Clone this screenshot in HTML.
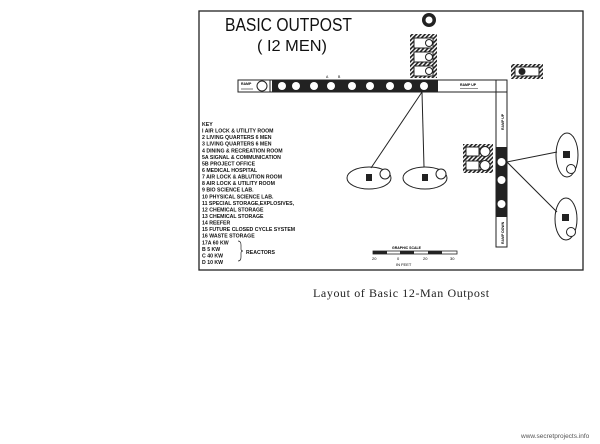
<!DOCTYPE html>
<html><head><meta charset="utf-8"><style>
html,body{margin:0;padding:0;background:#fff;}
svg{display:block}
</style></head><body>
<svg width="600" height="444" viewBox="0 0 600 444" xmlns="http://www.w3.org/2000/svg" font-family="Liberation Sans, sans-serif">
<defs>
<pattern id="h" width="3" height="3" patternUnits="userSpaceOnUse" patternTransform="rotate(45)">
<rect width="3" height="3" fill="#fff"/><rect width="1.6" height="3" fill="#222"/></pattern>
</defs>
<rect x="199" y="11" width="384" height="259" fill="none" stroke="#222" stroke-width="1.3"/>
<text x="225" y="31" font-size="18" fill="#111" textLength="127" lengthAdjust="spacingAndGlyphs">BASIC OUTPOST</text>
<text x="257" y="51" font-size="16" fill="#111" textLength="70" lengthAdjust="spacingAndGlyphs">( I2 MEN)</text>
<!-- 15 -->
<circle cx="429" cy="20" r="7" fill="#222"/><circle cx="429" cy="20" r="3.5" fill="#fff"/>
<!-- stack -->
<rect x="410" y="34" width="27" height="44" fill="url(#h)"/>
<rect x="414" y="38" width="19" height="10" fill="#fff" stroke="#222"/>
<rect x="414" y="52" width="19" height="10" fill="#fff" stroke="#222"/>
<rect x="414" y="66" width="19" height="10" fill="#fff" stroke="#222"/>
<circle cx="429" cy="43" r="3.5" fill="#fff" stroke="#222"/>
<circle cx="429" cy="57" r="3.5" fill="#fff" stroke="#222"/>
<circle cx="429" cy="71" r="3.5" fill="#fff" stroke="#222"/>
<!-- 14 -->
<rect x="511" y="64" width="32" height="15" fill="url(#h)"/>
<rect x="515" y="67" width="24" height="9" fill="#fff" stroke="#222"/>
<circle cx="522" cy="71.5" r="3.5" fill="#222"/>
<!-- corridor -->
<rect x="238" y="80" width="269" height="12" fill="#fff" stroke="#222"/>
<line x1="496" y1="80" x2="496" y2="92" stroke="#222"/>
<line x1="270" y1="80" x2="270" y2="92" stroke="#222"/>
<rect x="272" y="80" width="166" height="12" fill="#222"/>
<circle cx="262" cy="86" r="5" fill="#fff" stroke="#222"/>
<g fill="#fff">
<circle cx="282" cy="86" r="4"/><circle cx="296" cy="86" r="4"/><circle cx="314" cy="86" r="4"/><circle cx="331" cy="86" r="4"/>
<circle cx="352" cy="86" r="4"/><circle cx="370" cy="86" r="4"/><circle cx="390" cy="86" r="4"/><circle cx="408" cy="86" r="4"/><circle cx="424" cy="86" r="4"/>
</g>
<text x="241" y="85" font-size="3.5" font-weight="bold">RAMP</text>
<line x1="241" y1="89" x2="253" y2="89" stroke="#222" stroke-width=".6"/>
<text x="460" y="86" font-size="3.5" font-weight="bold">RAMP UP</text>
<line x1="460" y1="88.5" x2="478" y2="88.5" stroke="#222" stroke-width=".6"/>
<text x="326" y="78" font-size="3.5">A</text><text x="338" y="78" font-size="3.5">B</text>
<!-- vertical corridor -->
<rect x="496" y="92" width="11" height="155" fill="#fff" stroke="#222"/>
<rect x="496" y="147" width="11" height="70" fill="#222"/>
<circle cx="501.5" cy="162" r="4" fill="#fff"/><circle cx="501.5" cy="180" r="4" fill="#fff"/><circle cx="501.5" cy="204" r="4" fill="#fff"/>
<text transform="translate(504,130) rotate(-90)" font-size="3.5" font-weight="bold">RAMP UP</text>
<text transform="translate(504,244) rotate(-90)" font-size="3.5" font-weight="bold">RAMP DOWN</text>
<!-- hatched left -->
<rect x="463" y="144" width="30" height="29" fill="url(#h)"/>
<rect x="466" y="147" width="13" height="9" fill="#fff" stroke="#222"/><circle cx="485" cy="151.5" r="5" fill="#fff" stroke="#222"/>
<rect x="466" y="161" width="13" height="9" fill="#fff" stroke="#222"/><circle cx="485" cy="165.5" r="5" fill="#fff" stroke="#222"/>
<!-- lines -->
<g stroke="#222" stroke-width="1" fill="none">
<line x1="422" y1="92" x2="371" y2="168"/>
<line x1="422" y1="92" x2="424" y2="167"/>
<line x1="507" y1="162" x2="557" y2="152"/>
<line x1="507" y1="162" x2="557" y2="212"/>
<ellipse cx="369" cy="178" rx="22" ry="11"/>
<ellipse cx="425" cy="178" rx="22" ry="11"/>
<ellipse cx="567" cy="155" rx="11" ry="22"/>
<ellipse cx="566" cy="219" rx="11" ry="21"/>
<circle cx="385" cy="174" r="5" fill="#fff"/><circle cx="441" cy="174" r="5" fill="#fff"/>
<circle cx="571" cy="169" r="4.5" fill="#fff"/><circle cx="571" cy="232" r="4.5" fill="#fff"/>
</g>
<rect x="366" y="174" width="6" height="7" fill="#222"/>
<rect x="422" y="174" width="6" height="7" fill="#222"/>
<rect x="563" y="151" width="7" height="7" fill="#222"/>
<rect x="562" y="214" width="7" height="7" fill="#222"/>
<!-- key -->
<g font-size="5.2" font-weight="bold" fill="#111">
<text x="202" y="126">KEY</text>
<text x="202" y="132.6">I  AIR LOCK &amp; UTILITY ROOM</text>
<text x="202" y="139.1">2  LIVING QUARTERS 6 MEN</text>
<text x="202" y="145.7">3  LIVING QUARTERS 6 MEN</text>
<text x="202" y="152.3">4  DINING &amp; RECREATION ROOM</text>
<text x="202" y="158.9">5A SIGNAL &amp; COMMUNICATION</text>
<text x="202" y="165.4">5B PROJECT OFFICE</text>
<text x="202" y="172">6  MEDICAL HOSPITAL</text>
<text x="202" y="178.6">7  AIR LOCK &amp; ABLUTION ROOM</text>
<text x="202" y="185.1">8  AIR LOCK &amp; UTILITY ROOM</text>
<text x="202" y="191.7">9  BIO SCIENCE LAB.</text>
<text x="202" y="198.3">10 PHYSICAL SCIENCE LAB.</text>
<text x="202" y="204.9">11 SPECIAL STORAGE,EXPLOSIVES,</text>
<text x="202" y="211.4">12 CHEMICAL STORAGE</text>
<text x="202" y="218">13 CHEMICAL STORAGE</text>
<text x="202" y="224.6">14 REEFER</text>
<text x="202" y="231.1">15 FUTURE CLOSED CYCLE SYSTEM</text>
<text x="202" y="237.7">16 WASTE STORAGE</text>
<text x="202" y="244.3">17A 60 KW</text>
<text x="202" y="250.9">  B  5 KW</text>
<text x="202" y="257.4">  C 40 KW</text>
<text x="202" y="264">  D 10 KW</text>
<text x="246" y="254">REACTORS</text>
</g>
<path d="M238 241 q3 0 3 4 v4 q0 2 2 2 q-2 0 -2 2 v4 q0 4 -3 4" fill="none" stroke="#222" stroke-width=".7"/>
<!-- scale -->
<text x="392" y="249" font-size="3.5" font-weight="bold">GRAPHIC SCALE</text>
<rect x="373" y="251" width="84" height="3" fill="#fff" stroke="#222" stroke-width=".8"/>
<rect x="373" y="251" width="14" height="3" fill="#222"/><rect x="400" y="251" width="14" height="3" fill="#222"/><rect x="428" y="251" width="14" height="3" fill="#222"/>
<text x="372" y="260" font-size="4">20</text><text x="397" y="260" font-size="4">0</text><text x="423" y="260" font-size="4">20</text><text x="450" y="260" font-size="4">30</text>
<text x="396" y="266" font-size="4">IN FEET</text>
<!-- caption -->
<text x="313" y="297" font-family="Liberation Serif, serif" font-size="12" letter-spacing=".6" fill="#222">Layout of Basic 12-Man Outpost</text>
<text x="521" y="438" font-size="6.5" fill="#555">www.secretprojects.info</text>
</svg>
</body></html>
